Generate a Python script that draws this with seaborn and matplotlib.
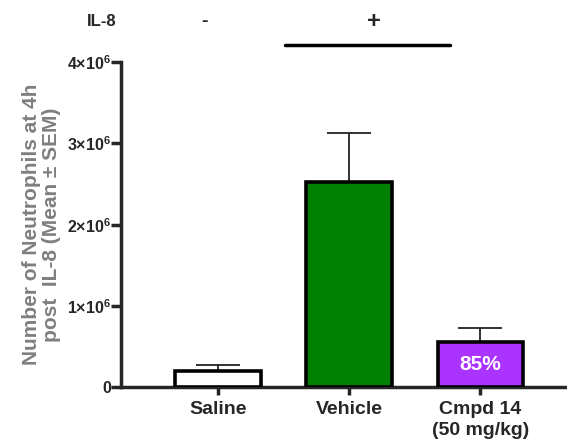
import numpy as np
import pandas as pd
import matplotlib
matplotlib.use("Agg")
import matplotlib.pyplot as plt
import seaborn as sns

groups = ["Saline", "Vehicle", "Cmpd 14\n(50 mg/kg)"]
means = [0.20e6, 2.53e6, 0.55e6]
sems = [0.07e6, 0.60e6, 0.18e6]
colors = ["#ffffff", "#008000", "#aa33ff"]
yticks = [0, 1e6, 2e6, 3e6, 4e6]
ytick_labels = ["0", r"$\mathbf{1{\times}10^6}$", r"$\mathbf{2{\times}10^6}$",
                r"$\mathbf{3{\times}10^6}$", r"$\mathbf{4{\times}10^6}$"]

sns.set_style("ticks")
plt.rcParams["font.family"] = ["Liberation Sans", "DejaVu Sans"]
plt.rcParams["font.weight"] = "bold"
plt.rcParams["mathtext.fontset"] = "custom"
plt.rcParams["mathtext.bf"] = "Liberation Sans:bold"
plt.rcParams["mathtext.rm"] = "Liberation Sans"

df = pd.DataFrame({"group": groups, "mean": means})

fig = plt.figure(figsize=(5.67, 4.44), dpi=100)
ax = fig.add_axes([0.213, 0.128, 0.787, 0.732])

sns.barplot(data=df, x="group", y="mean", hue="group", palette=colors,
            saturation=1, width=0.65, edgecolor="black", linewidth=2.6,
            legend=False, ax=ax, errorbar=None, zorder=3)
ax.errorbar(range(len(groups)), means, yerr=[[0] * 3, sems], fmt="none",
            ecolor="#222222", elinewidth=1.3, capsize=16, capthick=1.3, zorder=2)

ax.set_xlim(-0.74, 2.66)
ax.set_ylim(0, 4e6)
ax.set_yticks(yticks)
ax.set_yticklabels(ytick_labels, fontsize=11.5)
ax.tick_params(axis="y", width=2.5, length=7, pad=0)
ax.tick_params(axis="x", width=2.5, length=6, labelsize=14, pad=4)
for lbl in ax.get_xticklabels():
    lbl.set_fontweight("bold")
    lbl.set_linespacing(1.3)
ax.set_xlabel("")
ax.set_ylabel("Number of Neutrophils at 4h\npost  IL-8 (Mean ± SEM)",
              fontsize=15, fontweight="bold", color="#7f7f7f",
              linespacing=1.05)
ax.yaxis.set_label_coords(-0.135, 0.5)
for s in ["top", "right"]:
    ax.spines[s].set_visible(False)
ax.spines["left"].set_linewidth(2.5)
ax.spines["bottom"].set_linewidth(2.5)

ax.text(2, means[2] / 2, "85%", color="white", fontsize=15, fontweight="bold",
        ha="center", va="center", zorder=4)

fig.text(102 / 567, 1 - 22 / 444, "IL-8", fontsize=12, fontweight="bold",
         ha="center", va="center")
fig.text(205 / 567, 1 - 22 / 444, "-", fontsize=14, fontweight="bold",
         ha="center", va="center")
fig.text(374 / 567, 1 - 22 / 444, "+", fontsize=17, fontweight="bold",
         ha="center", va="center")
fig.add_artist(plt.Line2D([285 / 567, 450 / 567], [1 - 45 / 444, 1 - 45 / 444],
                          color="black", linewidth=2.5))

fig.savefig("out.png", dpi=100)
